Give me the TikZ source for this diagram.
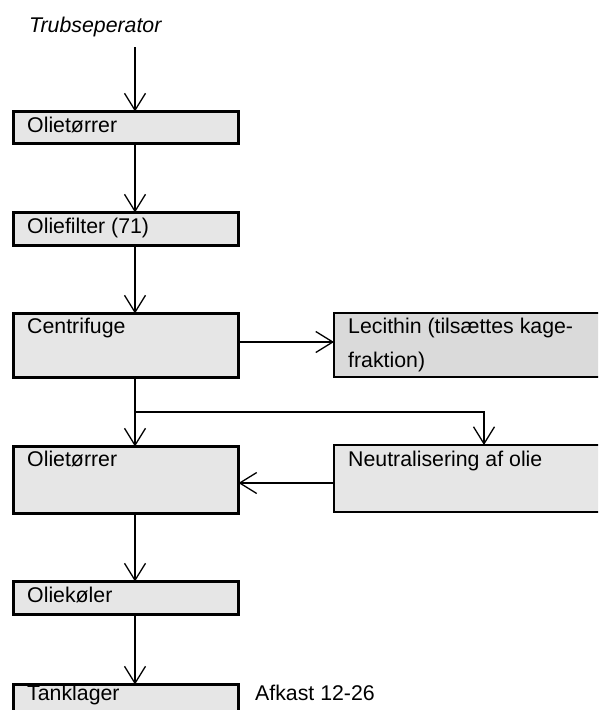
\documentclass[tikz,border=0pt]{standalone}
\usepackage{fontspec}
\setmainfont{Liberation Sans}
\usetikzlibrary{arrows.meta}
\definecolor{boxgray}{HTML}{E6E6E6}
\definecolor{lecgray}{HTML}{DADADA}
\begin{document}
\begin{tikzpicture}[x=1pt,y=-1pt,
  box/.style={draw=black, line width=3pt, fill=boxgray, inner sep=0pt, outer sep=0pt, minimum width=225pt},
  rbox/.style={draw=black, line width=2pt, inner sep=0pt, outer sep=0pt, minimum width=316pt},
  txt/.style={anchor=base west, inner sep=0pt, font=\fontsize{21.3}{25}\selectfont},
  arr/.style={line width=1.3pt, -{Straight Barb[length=17pt,width=21pt,line width=1.3pt]}},
  ln/.style={line width=1.3pt}]
\useasboundingbox (0,0) rectangle (598,710);
\clip (0,0) rectangle (598,710);
% boxes
\node[box, minimum height=32pt] (b1) at (126,127.5) {};
\node[box, minimum height=33pt] (b2) at (126,229) {};
\node[box, minimum height=64pt] (cen) at (126,345.5) {};
\node[rbox, fill=lecgray, minimum height=64pt] (lec) at (492,345) {};
\node[rbox, fill=boxgray, minimum height=67pt] (neu) at (492,478.5) {};
\node[box, minimum height=67pt] (o2) at (126,480) {};
\node[box, minimum height=33pt] (koel) at (126,598) {};
\node[box, minimum height=55.5pt] (tank) at (126,712.25) {};
% texts
\node[txt, font=\fontsize{21.3}{25}\selectfont\itshape] (trub) at (29,32) {Trubseperator};
\node[txt] (t1) at (27,132) {Olietørrer};
\node[txt] (t2) at (27,233) {Oliefilter (71)};
\node[txt] (t3) at (27,333) {Centrifuge};
\node[txt] (tl1) at (348,333) {Lecithin (tilsættes kage-};
\node[txt] (tl2) at (348,367) {fraktion)};
\node[txt] (tn) at (348,466) {Neutralisering af olie};
\node[txt] (t4) at (27,466) {Olietørrer};
\node[txt] (t5) at (27,602) {Oliekøler};
\node[txt] (t6) at (27,700) {Tanklager};
\node[txt] (afk) at (255,700) {Afkast 12-26};
% connectors
\coordinate (top) at (135,47);
\coordinate (ly) at (0,342);
\coordinate (br) at (135,412);
\coordinate (nx) at (484,412);
\coordinate (ny) at (0,483);
\draw[arr] (top) -- (top |- b1.north);
\draw[arr] (b1.south -| top) -- (b2.north -| top);
\draw[arr] (b2.south -| top) -- (cen.north -| top);
\draw[arr] (cen.east |- ly) -- (lec.west |- ly);
\draw[arr] (cen.south -| top) -- (o2.north -| top);
\draw[arr] (br) -- (nx) -- (neu.north -| nx);
\draw[arr] (neu.west |- ny) -- (o2.east |- ny);
\draw[arr] (o2.south -| top) -- (koel.north -| top);
\draw[arr] (koel.south -| top) -- (tank.north -| top);
\end{tikzpicture}
\end{document}
